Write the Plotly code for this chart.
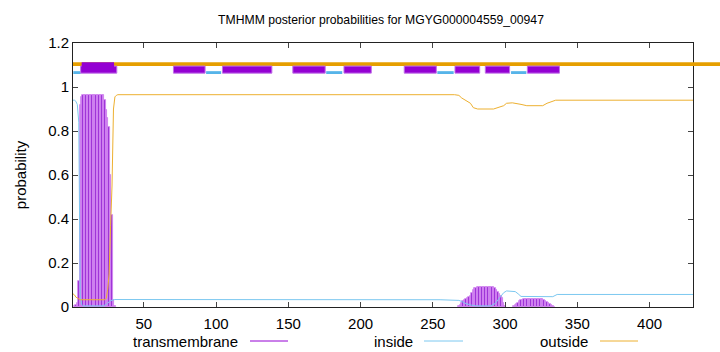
import plotly.graph_objects as go

title = "TMHMM posterior probabilities for MGYG000004559_00947"
x_range = [1, 430]
x_ticks = [50, 100, 150, 200, 250, 300, 350, 400]
y_ticks = [0, 0.2, 0.4, 0.6, 0.8, 1.0, 1.2]
y_tick_labels = ["0", "0.2", "0.4", "0.6", "0.8", "1", "1.2"]

# transmembrane posterior (impulses)
tm_x = [2, 3, 4, 5, 6, 7, 8, 9, 10, 11, 12, 13, 14, 15, 16, 17, 18, 19, 20, 21, 22,
        23, 24, 25, 26, 27, 28, 29, 30,
        268, 269, 270, 271, 272, 273, 274, 275, 276, 277, 278, 279, 280, 281, 282, 283,
        284, 285, 286, 287, 288, 289, 290, 291, 292, 293, 294, 295, 296, 297, 298, 299, 300,
        306, 307, 308, 309, 310, 311, 312, 313, 314, 315, 316, 317, 318, 319, 320, 321,
        322, 323, 324, 325, 326, 327, 328, 329, 330, 331, 332, 333, 334]
tm_y = [0.003, 0.008, 0.02, 0.12, 0.92, 0.955, 0.965, 0.965, 0.965, 0.965, 0.965, 0.965,
        0.965, 0.965, 0.965, 0.965, 0.965, 0.965, 0.965, 0.965, 0.965,
        0.94, 0.895, 0.86, 0.82, 0.6, 0.42, 0.03, 0.005,
        0.003, 0.008, 0.018, 0.027, 0.033, 0.038, 0.042, 0.047, 0.052, 0.065, 0.077, 0.085,
        0.088, 0.09, 0.091, 0.091, 0.091, 0.091, 0.091, 0.091, 0.091, 0.091, 0.091, 0.091,
        0.089, 0.085, 0.077, 0.07, 0.06, 0.05, 0.04, 0.02, 0.005,
        0.003, 0.008, 0.012, 0.02, 0.027, 0.03, 0.033, 0.035, 0.036, 0.036, 0.036, 0.036,
        0.036, 0.036, 0.036, 0.036, 0.036, 0.036, 0.036, 0.036, 0.036, 0.033, 0.028, 0.024,
        0.02, 0.015, 0.01, 0.006, 0.002]

# inside posterior
in_x = [1, 2, 3, 4, 5, 6, 7, 8, 22, 23, 24, 25, 26, 27, 28, 29, 30, 255, 262, 268, 270,
        273, 277, 280, 290, 293, 296, 299, 301, 304, 307, 309, 311, 333, 335, 336, 430]
in_y = [0.94, 0.94, 0.935, 0.92, 0.84, 0.05, 0.012, 0.005, 0.005, 0.008, 0.012, 0.018,
        0.024, 0.028, 0.031, 0.033, 0.034, 0.033, 0.03, 0.03, 0.025, 0.015, 0.008, 0.005,
        0.005, 0.015, 0.04, 0.065, 0.073, 0.07, 0.07, 0.06, 0.048, 0.047, 0.055, 0.057, 0.057]

# outside posterior
out_x = [1, 2, 3, 4, 5, 6, 23, 24, 25, 26, 27, 28, 29, 30, 31, 32, 265, 268, 270, 274,
         276, 278, 281, 292, 296, 299, 301, 305, 311, 315, 326, 329, 335, 430]
out_y = [0.06, 0.055, 0.045, 0.04, 0.035, 0.033, 0.033, 0.04, 0.08, 0.15, 0.37, 0.55,
         0.9, 0.955, 0.962, 0.965, 0.965, 0.962, 0.95, 0.933, 0.926, 0.906, 0.9, 0.9,
         0.91, 0.915, 0.926, 0.928, 0.921, 0.915, 0.915, 0.926, 0.94, 0.94]

# predicted topology segments along the top
tm_segments = [(6.3, 31.3), (70.5, 92.4), (104.4, 138.6), (153.1, 175.5), (188.5, 207.4),
               (230.2, 252.4), (265.3, 282.4), (286.3, 303.1), (315.4, 337.6)]
in_segments = [(1.2, 6.3), (93.1, 103.5), (176.2, 187.3), (253.1, 264.4), (304.1, 314.7)]

PURPLE = "#9400D3"
BLUE = "#56B4E9"
ORANGE = "#E69F00"
FONT = "Liberation Sans"

fig = go.Figure()
fig.add_trace(go.Bar(x=tm_x, y=tm_y, width=1.0,
                     marker=dict(color="#9B2FD6", line=dict(color="#D48CF2", width=0.8)),
                     showlegend=False))
fig.add_trace(go.Scatter(x=in_x, y=in_y, mode="lines",
                         line=dict(color="#7CC8F0", width=1), showlegend=False))
fig.add_trace(go.Scatter(x=out_x, y=out_y, mode="lines",
                         line=dict(color="#EDB030", width=1), showlegend=False))

shapes = []
# orange outside line across the top (extends past plot)
shapes.append(dict(type="rect", xref="paper", yref="paper", x0=0, x1=1.06,
                   y0=1.095 / 1.2, y1=1.113 / 1.2, fillcolor=ORANGE, line=dict(width=0),
                   layer="above"))
for a, b in in_segments:
    shapes.append(dict(type="rect", xref="x", yref="y", x0=a, x1=b, y0=1.059, y1=1.072,
                       fillcolor=BLUE, line=dict(width=0), layer="above"))
for a, b in tm_segments:
    shapes.append(dict(type="rect", xref="x", yref="y", x0=a, x1=b, y0=1.063, y1=1.095,
                       fillcolor=PURPLE, line=dict(color="#C070E8", width=1), layer="above"))
# taller first block over the orange line
shapes.append(dict(type="rect", xref="x", yref="y", x0=7.0, x1=29.4, y0=1.075, y1=1.112,
                   fillcolor=PURPLE, line=dict(width=0), layer="above"))

# legend samples
legend_items = [("transmembrane", PURPLE, 240, 250, 288),
                ("inside", "#7CC8F0", 415, 424, 463),
                ("outside", "#EDB030", 590, 600, 638)]
annotations = []
LEG_Y = -(341 - 307) / 264
for label, col, xr, l0, l1 in legend_items:
    annotations.append(dict(text=label, xref="paper", yref="paper",
                            x=(xr - 73) / 620, xanchor="right",
                            y=LEG_Y, yanchor="middle", showarrow=False,
                            font=dict(family=FONT, size=15, color="#000")))
    shapes.append(dict(type="line", xref="paper", yref="paper",
                       x0=(l0 - 73) / 620, x1=(l1 - 73) / 620,
                       y0=LEG_Y, y1=LEG_Y, line=dict(color=col, width=1)))

fig.update_layout(
    width=720, height=352,
    margin=dict(l=73, r=27, t=43, b=45),
    paper_bgcolor="white", plot_bgcolor="white",
    title=dict(text=title, x=381 / 720, xanchor="center", y=1 - 20 / 352,
               yanchor="middle", font=dict(family=FONT, size=12.2, color="#000")),
    font=dict(family=FONT, size=15, color="#000"),
    bargap=0,
    shapes=shapes,
    annotations=annotations,
    xaxis=dict(range=x_range, tickvals=x_ticks, ticks="inside", ticklen=5,
               tickcolor="#444", showline=True, linecolor="#222", linewidth=1,
               mirror="ticks", showgrid=False, zeroline=False, ticklabelstandoff=3,
               tickfont=dict(family=FONT, size=15)),
    yaxis=dict(range=[0, 1.2], tickvals=y_ticks, ticktext=y_tick_labels, ticks="inside",
               ticklen=5, tickcolor="#444", showline=True, linecolor="#222", linewidth=1,
               mirror="ticks", showgrid=False, zeroline=False,
               title=dict(text="probability", font=dict(family=FONT, size=15), standoff=17),
               tickfont=dict(family=FONT, size=15)),
)

fig.write_html("out.html")
